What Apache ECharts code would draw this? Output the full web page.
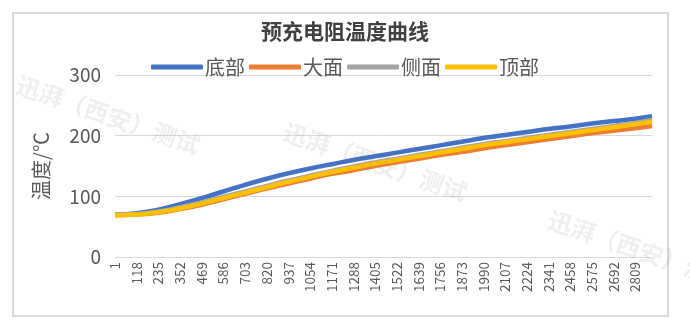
<!DOCTYPE html>
<html><head><meta charset="utf-8">
<script src="https://cdn.jsdelivr.net/npm/echarts@6/dist/echarts.min.js"></script>
<style>html,body{margin:0;padding:0;background:#fff}#c{width:690px;height:330px}</style>
</head><body><div id="c"></div>
<script>
const xIndex = [1,118,235,352,469,586,703,820,937,1054,1171,1288,1405,1522,1639,1756,1873,1990,2107,2224,2341,2458,2575,2692,2809,2900];
const seriesNames = ['底部','大面','侧面','顶部'];
const bottomVals = [70,72,78,87,97,108,119,129,138,146,153,160,166,172,178,184,190,196,201,206,211,215,220,224,228,232];
const bigVals    = [69,70,73,79,86,95,104,113,121,129,137,143,150,156,162,168,173,179,184,189,194,199,204,208,212,216];
const sideVals   = [70,71,75,82,90,99,108,117,126,134,142,149,156,162,168,174,180,186,191,196,201,206,211,216,221,226];
const topVals    = [69,70,74,80,88,97,106,115,124,132,140,147,154,160,166,172,178,184,189,194,199,204,209,214,219,223];
const yTicks = [0,100,200,300];
const colors = ['#4472C4','#ED7D31','#A5A5A5','#FFC000'];
const font = '"Noto Sans CJK SC", "Noto Sans", sans-serif';

const allVals = [bottomVals, bigVals, sideVals, topVals];
const chart = echarts.init(document.getElementById('c'), null, {renderer:'canvas'});
const wm = '迅湃（西安）测试';
function wmText(x, y){
  return {type:'text', x:x, y:y, rotation:-0.33, z:100, silent:true,
    style:{text:wm, fill:'rgba(120,120,120,0.13)', font:'bold 24px ' + font, align:'center', verticalAlign:'middle'}};
}
chart.setOption({
  animation:false,
  color: colors,
  title:{text:'预充电阻温度曲线', left:'center', top:16,
    textStyle:{fontFamily:font, fontSize:21, fontWeight:'bold', color:'#404040'}},
  legend:{top:52, left:'center', icon:'roundRect', itemWidth:52, itemHeight:5, itemGap:4,
    textStyle:{fontFamily:font, fontSize:20, color:'#595959', padding:[0,0,0,-3]},
    data: seriesNames},
  grid:{left:115, right:38, top:75, bottom:73},
  xAxis:{type:'value', min:0, max:xIndex[xIndex.length-1]-1, interval:117,
    axisLine:{show:false}, axisTick:{show:false}, splitLine:{show:false},
    axisLabel:{rotate:90, fontFamily:font, fontSize:13.5, color:'#595959', margin:5,
      showMaxLabel:false, formatter:v => String(v+1)}},
  yAxis:{type:'value', min:yTicks[0], max:yTicks[yTicks.length-1], interval:100,
    name:'温度/℃', nameLocation:'middle', nameGap:64, nameRotate:90,
    nameTextStyle:{fontFamily:font, fontSize:20, color:'#595959'},
    axisLine:{show:false}, axisTick:{show:false},
    splitLine:{lineStyle:{color:'#d9d9d9', width:1}},
    axisLabel:{fontFamily:font, fontSize:19, color:'#595959', margin:14}},
  series: seriesNames.map((n,i) => ({
    name:n, type:'line', smooth:true, showSymbol:false, symbol:'none',
    lineStyle:{width:4.5, color:colors[i]},
    data: xIndex.map((x,k) => [x-1, allVals[i][k]])
  })),
  graphic:[
    {type:'rect', shape:{x:13, y:13, width:655, height:303}, silent:true,
     style:{fill:'none', stroke:'#d9d9d9', lineWidth:2}},
    wmText(108, 115), wmText(375, 162), wmText(640, 250)
  ]
});
</script></body></html>
